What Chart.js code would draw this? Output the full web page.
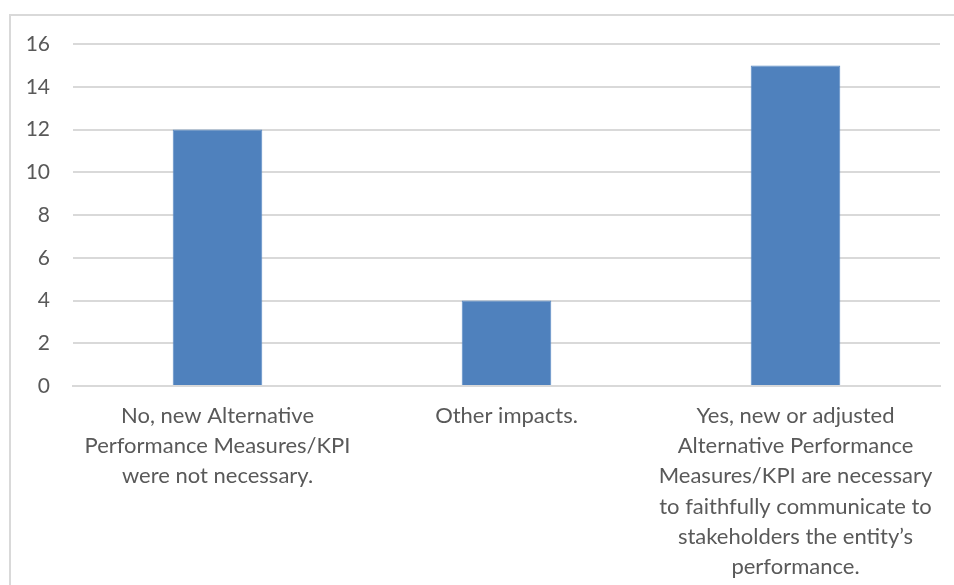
<!DOCTYPE html>
<html>
<head>
<meta charset="utf-8">
<script src="https://cdn.jsdelivr.net/npm/chart.js@4/dist/chart.umd.min.js"></script>
<style>
  html, body { margin: 0; padding: 0; background: #fff; }
  #wrap { position: relative; width: 954px; height: 585px; overflow: hidden; }
  #frame { position: absolute; left: 9px; top: 14px; width: 980px; height: 620px; border: 2px solid #d9d9d9; box-sizing: border-box; }
  #chart { position: absolute; left: 0; top: 0; }
</style>
</head>
<body>
<div id="wrap">
  <div id="frame"></div>
  <canvas id="chart" width="954" height="585"></canvas>
</div>
<script>
// categories (pre-wrapped into lines) and answer counts
const categories = [
  ['No, new Alternative', 'Performance Measures/KPI', 'were not necessary.'],
  ['Other impacts.'],
  ['Yes, new or adjusted', 'Alternative Performance', 'Measures/KPI are necessary', 'to faithfully communicate to', 'stakeholders the entity\u2019s', 'performance.']
];
const counts = [12, 4, 15];
const yTicks = [0, 2, 4, 6, 8, 10, 12, 14, 16];

const FONT = 'Lato, "Liberation Sans", sans-serif';
const TEXT = '#595959';
const GRID = '#d9d9d9';

new Chart(document.getElementById('chart'), {
  type: 'bar',
  data: {
    labels: categories,
    datasets: [{
      data: counts,
      backgroundColor: '#4f81bd',
      borderColor: '#5a8ac4',
      borderWidth: 1,
      categoryPercentage: 1,
      barPercentage: 0.31
    }]
  },
  options: {
    responsive: false,
    animation: false,
    layout: { padding: { top: 44, right: 14, left: 0, bottom: 0 } },
    plugins: { legend: { display: false }, tooltip: { enabled: false } },
    scales: {
      x: {
        grid: { display: false, drawTicks: false },
        border: { color: GRID, width: 2 },
        ticks: {
          color: TEXT,
          font: { family: FONT, size: 22, lineHeight: 1.37 },
          padding: 15,
          maxRotation: 0,
          autoSkip: false
        },
        afterFit: s => { s.height = 199; }
      },
      y: {
        min: 0,
        max: 16,
        afterBuildTicks: s => { s.ticks = yTicks.map(v => ({ value: v })); },
        grid: { color: GRID, lineWidth: 2, drawTicks: false },
        border: { display: false },
        ticks: {
          color: TEXT,
          font: { family: FONT, size: 21 },
          padding: 23
        },
        afterFit: s => { s.width = 73; }
      }
    }
  }
});
</script>
</body>
</html>
